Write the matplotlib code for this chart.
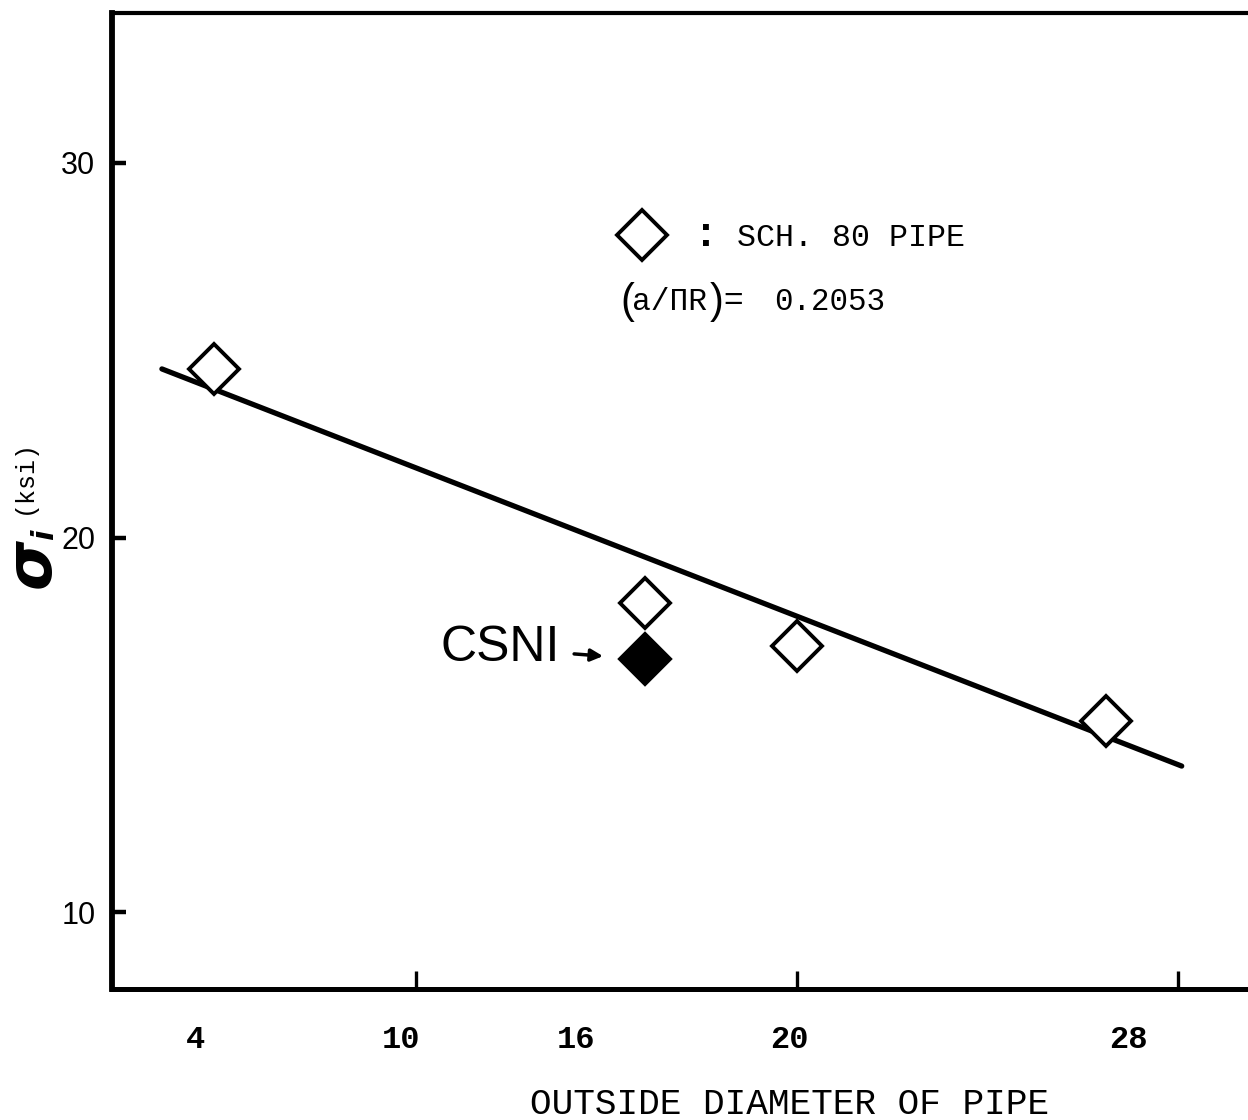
import matplotlib
matplotlib.use("Agg")
import matplotlib.pyplot as plt
from matplotlib.lines import Line2D

# data (x axis is linear; tick marks at 10, 20, 30)
pipe_od = [4.7, 16.0, 20.0, 28.1]          # outside diameter of pipe
sigma_i = [24.5, 18.25, 17.1, 15.1]         # ksi, SCH. 80 pipe
csni_od = 16.0
csni_sigma = 16.75
fit_od = [3.33, 30.1]
fit_sigma = [24.5, 13.9]

# nominal sizes are printed under the points, not under the tick marks
size_labels = ["4", "10", "16", "20", "28"]
size_label_pos = [4.2, 9.6, 14.2, 19.8, 28.7]
x_tick_marks = [10, 20, 30]
y_ticks = [10, 20, 30]

mono = "Liberation Mono"
sans = "Liberation Sans"

fig = plt.figure(figsize=(12.48, 11.2), dpi=100)
ax = fig.add_axes([112 / 1248, 131 / 1120, 1136 / 1248, 976 / 1120])


def axx(px):
    return (px - 112) / 1136


def axy(py):
    return (989 - py) / 976


ax.plot(fit_od, fit_sigma, color="black", lw=3.8, solid_capstyle="round", zorder=2)
ax.plot(pipe_od, sigma_i, ls="none", marker="D", ms=25, mfc="white",
        mec="black", mew=2.8, zorder=3)
ax.plot([csni_od], [csni_sigma], ls="none", marker="D", ms=25, mfc="black",
        mec="black", mew=2.8, zorder=3)

ax.set_xlim(2.02, 31.84)
ax.set_ylim(7.95, 34.0)

ax.xaxis.remove_overlapping_locs = False
ax.set_xticks(size_label_pos)
ax.set_xticklabels(size_labels, fontfamily=mono, fontweight="bold", fontsize=23)
ax.set_xticks(x_tick_marks, minor=True)
ax.tick_params(axis="x", which="major", length=0, pad=26)
ax.tick_params(axis="x", which="minor", direction="in", length=13, width=2.4)

ax.set_yticks(y_ticks)
ax.set_yticklabels([str(v) for v in y_ticks], fontfamily=sans, fontsize=22)
ax.tick_params(axis="y", direction="in", length=10, width=3.2, pad=12)
ax.yaxis.set_minor_locator(plt.NullLocator())

ax.spines["right"].set_visible(False)
ax.spines["left"].set_linewidth(4.2)
ax.spines["bottom"].set_linewidth(3.6)
ax.spines["top"].set_linewidth(3.0)

# legend
key = Line2D([], [], ls="none", marker="D", ms=25, mfc="white", mec="black", mew=2.8)
ax.legend([key], ["SCH. 80 PIPE"], loc="center left", bbox_to_anchor=(0.4445, 0.769),
          frameon=False, borderpad=0, borderaxespad=0, handlelength=1.6,
          handletextpad=2.2, prop={"family": mono, "size": 22.8})
ax.text(axx(706), 0.7725, ":", transform=ax.transAxes, ha="center", va="center",
        fontsize=30, fontweight="bold", fontfamily=sans)

ry = axy(302)
ax.text(axx(620), ry, "(", transform=ax.transAxes, ha="left", va="center",
        fontsize=30, fontfamily=sans)
ax.text(axx(632), ry, "a/\u03a0R", transform=ax.transAxes, ha="left",
        va="center", fontsize=22.5, fontfamily=mono)
ax.text(axx(710), ry, ")", transform=ax.transAxes, ha="left", va="center",
        fontsize=30, fontfamily=sans)
ax.text(axx(723), ry, "=", transform=ax.transAxes, ha="left", va="center",
        fontsize=24, fontfamily=sans)
ax.text(axx(774), ry, "0.2053", transform=ax.transAxes, ha="left",
        va="center", fontsize=22.2, fontfamily=mono)

# CSNI point label
ax.annotate("CSNI", xy=(csni_od, csni_sigma), xytext=(-144, 11),
            textcoords="offset pixels", ha="center", va="center",
            fontsize=36, fontfamily=sans,
            arrowprops=dict(arrowstyle="-|>", color="black", lw=2.5,
                            mutation_scale=18, shrinkA=8, shrinkB=30))

# y label pieces
fig.text(32 / 1248, 1 - 563 / 1120, "\u03c3", rotation=90, ha="center", va="center",
         fontsize=46, fontweight="bold", fontstyle="italic", fontfamily="DejaVu Sans")
fig.text(45 / 1248, 1 - 535 / 1120, "i", rotation=90, ha="center", va="center",
         fontsize=22, fontweight="bold", fontstyle="italic", fontfamily="DejaVu Sans")
fig.text(24 / 1248, 1 - 476 / 1120, "(ksi)", rotation=90, ha="center", va="center",
         fontsize=18, fontfamily=mono)

fig.text(790 / 1248, 1 - 1114 / 1120, "OUTSIDE DIAMETER OF PIPE", ha="center",
         va="baseline", fontsize=26, fontfamily=mono)

fig.savefig("out.png", dpi=100)
